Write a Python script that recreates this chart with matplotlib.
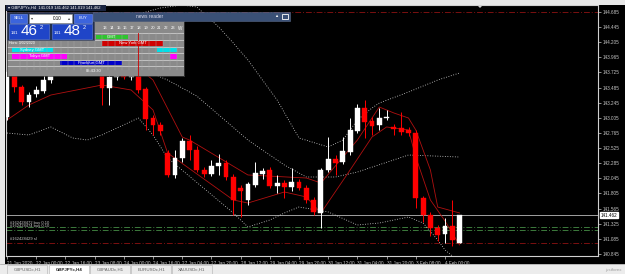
import matplotlib
matplotlib.use("Agg")
import matplotlib.pyplot as plt
from matplotlib.patches import Rectangle
import matplotlib.transforms as mtrans

plt.rcParams['font.family'] = ['Liberation Sans', 'DejaVu Sans']

# GBPJPYc H4 candles
opens = [143.018, 143.717, 143.494, 143.256, 143.383, 143.431, 143.605, 144.034, 144.272, 144.399,
         144.240, 143.923, 144.082, 143.891, 143.478, 143.653, 143.717, 143.653, 143.780, 143.463,
         143.002, 142.891, 142.447, 142.098, 142.368, 142.637, 142.494, 142.177, 142.114, 142.241,
         142.288, 142.066, 141.891, 141.701, 141.939, 142.114, 142.177, 141.923, 141.971, 141.907,
         141.987, 141.891, 141.701, 141.495, 142.177, 142.352, 142.304, 142.463, 142.796, 143.161,
         142.955, 142.891, 143.002, 142.860, 142.844, 142.812, 142.764, 141.733, 141.463, 141.257,
         141.161, 141.288, 141.019]
highs = [143.764, 143.796, 143.526, 143.415, 143.510, 143.796, 144.113, 144.304, 144.367, 144.558,
         144.304, 144.145, 144.161, 143.955, 143.764, 143.764, 143.748, 143.891, 143.828, 143.494,
         143.050, 142.939, 142.494, 142.494, 142.685, 142.733, 142.558, 142.225, 142.336, 142.431,
         142.336, 142.114, 141.939, 141.987, 142.304, 142.209, 142.225, 142.098, 142.018, 142.209,
         142.034, 141.939, 141.749, 142.209, 142.701, 142.415, 142.701, 143.002, 143.225, 143.288,
         143.018, 143.161, 143.130, 142.907, 143.098, 142.860, 142.812, 141.764, 141.511, 141.304,
         141.415, 141.701, 141.462]
lows = [142.971, 143.415, 143.209, 143.177, 143.336, 143.399, 143.558, 143.986, 144.050, 144.082,
        143.844, 143.875, 143.828, 143.209, 143.209, 143.605, 143.621, 143.605, 143.399, 142.812,
        142.733, 142.733, 142.066, 142.050, 142.304, 142.336, 142.145, 142.066, 142.082, 142.098,
        142.018, 141.463, 141.431, 141.622, 141.907, 142.034, 141.891, 141.812, 141.733, 141.844,
        141.860, 141.653, 141.463, 141.257, 142.145, 142.098, 142.273, 142.415, 142.764, 142.685,
        142.733, 142.812, 142.971, 142.733, 142.733, 142.717, 141.574, 141.352, 141.130, 141.050,
        141.019, 140.971, 141.019]
closes = [143.732, 143.494, 143.256, 143.367, 143.447, 143.605, 144.050, 144.240, 144.113, 144.161,
          143.923, 144.082, 143.875, 143.478, 143.653, 143.717, 143.653, 143.780, 143.447, 142.987,
          142.891, 142.796, 142.098, 142.368, 142.637, 142.494, 142.177, 142.114, 142.241, 142.288,
          142.066, 141.701, 141.844, 141.955, 142.130, 142.161, 141.923, 141.971, 141.907, 141.987,
          141.891, 141.701, 141.511, 142.177, 142.352, 142.288, 142.479, 142.812, 143.161, 142.939,
          142.875, 143.002, 143.018, 142.828, 142.780, 142.764, 141.733, 141.463, 141.257, 141.145,
          141.288, 141.066, 141.462]

# bollinger bands (white dotted), sampled at some bars
up_idx = [0, 6, 12, 18, 21, 24, 26, 29, 31, 33, 35, 37, 40, 44, 46, 48, 50, 51, 55, 59, 62]
bb_upper = [144.399, 144.478, 144.526, 144.653, 144.748, 144.796, 144.764, 144.447, 144.193, 143.923,
            143.605, 143.288, 142.685, 142.542, 142.653, 142.971, 143.161, 143.240, 143.415, 143.605,
            143.717]
mid_idx = [0, 6, 12, 18, 20, 22, 26, 33, 38, 41, 45, 48, 55, 62]
bb_mid = [143.685, 143.796, 143.828, 143.764, 143.701, 143.605, 143.351, 142.653, 142.256, 142.066,
          142.066, 142.145, 142.415, 142.383]
low_idx = [0, 3, 6, 9, 11, 13, 18, 20, 22, 31, 33, 36, 38, 40, 44, 48, 51, 53, 55, 57, 59, 60, 62]
bb_lower = [142.764, 142.733, 142.860, 142.685, 142.653, 142.733, 143.002, 142.733, 142.368, 141.495,
            141.273, 141.383, 141.495, 141.590, 141.511, 141.304, 141.336, 141.383, 141.431, 141.336,
            141.066, 140.907, 140.717]

# red envelope lines
envu_idx = [0, 6, 13, 17, 20, 24, 25, 33, 41, 43, 48, 51, 53, 55, 56, 58, 59, 62]
env_upper = [143.685, 143.923, 144.082, 143.891, 143.605, 142.701, 142.653, 142.098, 142.050, 141.971,
             142.653, 143.177, 143.082, 143.002, 142.812, 142.177, 141.590, 141.495]
envl_idx = [0, 3, 6, 13, 17, 20, 22, 31, 33, 38, 41, 43, 47, 50, 52, 55, 56, 58, 60, 62]
env_lower = [142.971, 143.209, 143.367, 143.526, 143.447, 143.130, 142.447, 141.701, 141.653, 141.828,
             141.749, 141.495, 142.177, 142.701, 142.860, 142.812, 142.383, 141.701, 141.368, 140.987]

time_idx = [0, 4, 8, 12, 16, 20, 24, 28, 32, 36, 40, 44, 48, 52, 56, 60]
time_labels = ['21 Jan 2020', '22 Jan 00:00', '22 Jan 16:00', '23 Jan 08:00', '24 Jan 00:00',
               '24 Jan 16:00', '27 Jan 04:00', '27 Jan 20:00', '28 Jan 12:00', '29 Jan 04:00',
               '29 Jan 20:00', '30 Jan 12:00', '31 Jan 04:00', '31 Jan 20:00', '3 Feb 08:00',
               '4 Feb 00:00']
price_ticks = [144.685, 144.445, 144.205, 143.965, 143.725, 143.485, 143.245, 143.005, 142.765,
               142.525, 142.285, 142.045, 141.805, 141.565, 141.325, 141.085, 140.845]

bid = 141.462
buy_levels = [141.268, 141.220]
sl_level = 141.023
tp_level = 144.685
order_labels = ['#162428472 buy 0.10', '#162428474 buy 0.10']

# session table for the news panel (GMT hours)
sessions = [('GMT', 11.6, 16.4, '#2fc42f', 0),
            ('New York GMT', 12.6, 21.5, '#d00000', 1),
            ('Sydney GMT', -0.7, 5.4, '#00e0e8', 2),
            ('', 20.7, 23.6, '#00e0e8', 2),
            ('Tokyo GMT', -0.7, 7.4, '#ff00ff', 3),
            ('', 22.6, 23.6, '#ff00ff', 3),
            ('Frankfurt GMT', 6.4, 15.5, '#0000c8', 4)]
hours_shown = list(range(13, 24))

W, H = 625, 274
fig = plt.figure(figsize=(W / 100, H / 100), dpi=100, facecolor='black')


def px_box(x0, y0, x1, y1):
    return [x0 / W, 1 - y1 / H, (x1 - x0) / W, (y1 - y0) / H]


ax = fig.add_axes(px_box(6, 5, 598, 256))
ax.set_facecolor('black')
ax.set_xlim(-0.14, 80.96)
ax.set_ylim(140.812, 144.796)
for s in ax.spines.values():
    s.set_color('#d0d0d0')
    s.set_linewidth(0.8)

# horizontal levels
ax.axhline(tp_level, color='#7a1010', lw=0.7, ls=(0, (6, 2, 1, 2)))
ax.axhline(bid, color='#a0a0a0', lw=0.7)
for lv in buy_levels:
    ax.axhline(lv, color='#3c7a3c', lw=0.7, ls=(0, (6, 2, 1, 2)))
ax.axhline(sl_level, color='#7a1010', lw=0.7, ls=(0, (6, 2, 1, 2)))

# indicators
dots = dict(color='#d8d8d8', lw=0.6, ls=(0, (1, 2)))
ax.plot(up_idx, bb_upper, **dots)
ax.plot(mid_idx, bb_mid, **dots)
ax.plot(low_idx, bb_lower, **dots)
ax.plot(envu_idx, env_upper, color='#b01010', lw=0.6)
ax.plot(envl_idx, env_lower, color='#b01010', lw=0.6)

# candles
for i, (o, h, l, c) in enumerate(zip(opens, highs, lows, closes)):
    col = 'white' if c >= o else '#ff0000'
    ax.vlines(i, l, h, color=col, lw=0.7, zorder=3)
    ax.add_patch(Rectangle((i - 0.33, min(o, c)), 0.66, max(abs(c - o), 0.006),
                           facecolor=col, edgecolor=col, lw=0.3, zorder=4))

ax.set_xticks(time_idx)
ax.set_xticklabels(time_labels, ha='left')
ax.yaxis.tick_right()
ax.set_yticks(price_ticks)
ax.set_yticklabels([f'{p:.3f}' for p in price_ticks])
ax.tick_params(axis='both', colors='#c8c8c8', labelsize=3.3, length=2, width=0.5, pad=1.2)
ax.tick_params(axis='x', pad=1.5)

# bid label on the price scale
tr = mtrans.blended_transform_factory(ax.transAxes, ax.transData)
ax.text(1.004, bid, f'{bid:.3f}', transform=tr, fontsize=3.3, color='black', va='center', ha='left',
        bbox=dict(boxstyle='square,pad=0.15', fc='white', ec='white'), clip_on=False)

# order labels
for lv, lab in zip(buy_levels, order_labels):
    ax.text(0.006, lv + 0.035, lab, transform=tr, fontsize=3, color='#c8c8c8', va='bottom')
ax.text(0.006, sl_level + 0.035, '#162428429 sl', transform=tr, fontsize=3, color='#c8c8c8', va='bottom')

# overlay in pixels for the terminal window chrome
ov = fig.add_axes([0, 0, 1, 1], zorder=5)
ov.set_xlim(0, W)
ov.set_ylim(H, 0)
ov.axis('off')
ov.patch.set_alpha(0)
ov.add_patch(Rectangle((0, 0), W, 4.5, fc='#e8e8e8', ec='none'))
ov.add_patch(Rectangle((0, 0), 5, H, fc='#e8e8e8', ec='none'))
ov.add_patch(Rectangle((0, 264), W, 10, fc='#ececec', ec='none'))
ov.plot([0, W], [264, 264], color='#a0a0a0', lw=0.5)
tabs = ['GBPUSDc,H1', 'GBPJPYc,H4', 'GBPAUDc,H1', 'EURUSDc,H1', 'XAUUSDc,H1']
tab_x = [7, 49, 90, 131, 172]
for k, (tx, tname) in enumerate(zip(tab_x, tabs)):
    fc = 'white' if k == 1 else '#ececec'
    ov.add_patch(Rectangle((tx, 264.5), 40, 9, fc=fc, ec='#b0b0b0', lw=0.4))
    ov.text(tx + 20, 269.5, tname, fontsize=3.2, color='#202020' if k == 1 else '#606060',
            ha='center', va='center', fontweight='bold' if k == 1 else 'normal')
ov.text(622, 270, 'justforex', fontsize=3.2, color='#a0a0a0', ha='right', va='center')

# chart shift marker
ov.add_patch(plt.Polygon([[477, 5], [483, 5], [480, 8]], closed=True, fc='#d0d0d0', ec='none'))

# one-click trading panel
ov.add_patch(Rectangle((6, 5), 100, 6, fc='#1a2440', ec='none'))
ov.text(8, 8, '\u25be GBPJPYc,H4  141.019 141.462 141.019 141.462', fontsize=3, color='white', va='center')
ov.add_patch(Rectangle((7, 12), 87, 28, fc='#22304e', ec='#404860', lw=0.5))
ov.add_patch(Rectangle((10, 14), 17, 8.5, fc='#3c64dc', ec='#7090f0', lw=0.4))
ov.text(18.5, 18.2, 'SELL', fontsize=3, color='white', ha='center', va='center')
ov.add_patch(Rectangle((29, 14), 43, 8.5, fc='white', ec='#909090', lw=0.4))
ov.text(31, 18.2, '\u25be', fontsize=3, color='#404040', va='center')
ov.text(62, 18.2, '0.10', fontsize=3.3, color='black', ha='right', va='center')
ov.text(70, 18.2, '\u25b4', fontsize=3, color='#404040', ha='right', va='center')
ov.add_patch(Rectangle((74, 14), 18, 8.5, fc='#3c64dc', ec='#7090f0', lw=0.4))
ov.text(83, 18.2, 'BUY', fontsize=3, color='white', ha='center', va='center')
for bx, big in [(9, '46'), (52, '48')]:
    ov.add_patch(Rectangle((bx, 23.5), 40, 15, fc='#1f45c8', ec='#6080e0', lw=0.4))
    ov.text(bx + 2, 33, '141', fontsize=3.2, color='white', va='center')
    ov.text(bx + 12, 31, big, fontsize=11, color='white', va='center')
    ov.text(bx + 31, 27.5, '2', fontsize=4, color='white', va='center')

# news reader panel
ov.add_patch(Rectangle((93, 12), 197, 8.5, fc='#3a5076', ec='#5a6a8a', lw=0.4))
ov.text(150, 16.3, 'news reader', fontsize=3.5, color='#d8d8e8', ha='center', va='center')
ov.text(276, 16.3, '\u25b2', fontsize=3, color='white', ha='center', va='center')
ov.add_patch(Rectangle((282, 13.8), 6, 5, fc='none', ec='white', lw=0.6))

pn = fig.add_axes(px_box(7, 20.5, 184, 76), zorder=4)
pn.set_facecolor('#8a8a8a')
pn.set_xlim(-1.4, 24.6)
pn.set_ylim(55.5, 0)
pn.set_xticks([])
pn.set_yticks([])
for s in pn.spines.values():
    s.set_color('#404040')
    s.set_linewidth(0.5)
for h in hours_shown:
    pn.text(h, 7.5, str(h), fontsize=3, color='white', ha='center', va='center')
pn.text(24.1, 7.5, 'W', fontsize=3.3, color='white', ha='center', va='center')
for yl in [12.5, 19.5, 26, 32.5, 39, 45.5]:
    pn.axhline(yl, color='#d8d8d8', lw=0.5)
for h in range(24):
    pn.axvline(h + 0.5, ymin=0.1, ymax=0.78, color='#a8a8a8', lw=0.3)
for name, s0, s1, col, row in sessions:
    yy = 14 + row * 6.5
    pn.add_patch(Rectangle((s0, yy), s1 - s0, 4.5, fc=col, ec='none'))
    if name:
        pn.text((s0 + s1) / 2, yy + 2.4, name, fontsize=3, color='white', ha='center', va='center')
pn.axvline(17.8, ymin=0.0, ymax=0.78, color='#d00000', lw=0.6)
pn.text(-1.1, 22.5, 'Hora: 3/02/2020', fontsize=2.6, color='white', va='center')
pn.text(11.3, 50.5, '05:43:30', fontsize=3, color='white', ha='center', va='center')

fig.savefig('out.png', dpi=100, facecolor='black')
